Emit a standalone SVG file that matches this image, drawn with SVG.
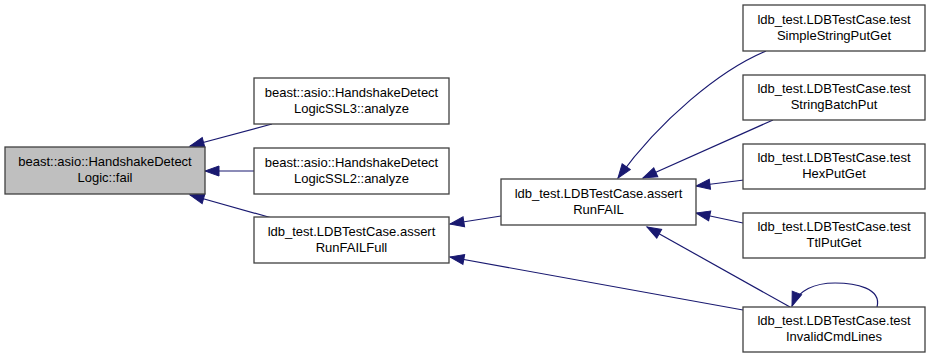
<svg xmlns="http://www.w3.org/2000/svg" width="931" height="357" viewBox="0 0 931 357">
  <style>
    .node rect { fill: #ffffff; stroke: #404040; stroke-width: 1.3; }
    .node.current rect { fill: #bfbfbf; }
    .node text { font-family: "Liberation Sans", Arial, sans-serif; font-size: 13px; fill: #000000; text-anchor: middle; }
    .edges path { fill: none; stroke: #191970; stroke-width: 1.2; marker-end: url(#arrow); }
  </style>
  <defs>
    <marker id="arrow" markerUnits="userSpaceOnUse" markerWidth="14" markerHeight="10" refX="14" refY="5" orient="auto" overflow="visible">
      <path d="M0,0 L14,5 L0,10 Z" fill="#191970" stroke="#191970" stroke-width="1"/>
    </marker>
  </defs>
  <rect width="931" height="357" fill="#ffffff"/>

  <!-- call edges: each path runs from the caller to the called function -->
  <g id="edges" class="edges">
    <path d="M272,124 L190,146"/>
    <path d="M254,171 L205,171"/>
    <path d="M272,218 L190,195"/>
    <path d="M501,216 L450,224"/>
    <path d="M743,310 L450,257"/>
    <path d="M766,51 C720,70 660,120 618,178"/>
    <path d="M773,120 L643,178"/>
    <path d="M744,180 L696,186"/>
    <path d="M743,223 L696,213"/>
    <path d="M790,307 L647,227"/>
    <path d="M877,307 C882,288 855,283 835,283 C815,283 798,290 792,306"/>
  </g>

  <g id="node-fail" class="node current">
    <rect x="5" y="147" width="200" height="47"/>
    <text x="105" y="166">beast::asio::HandshakeDetect</text>
    <text x="105" y="182">Logic::fail</text>
  </g>

  <g id="node-ssl3-analyze" class="node">
    <rect x="254" y="78" width="195" height="46"/>
    <text x="351.5" y="96.5">beast::asio::HandshakeDetect</text>
    <text x="351.5" y="112.5">LogicSSL3::analyze</text>
  </g>

  <g id="node-ssl2-analyze" class="node">
    <rect x="254" y="148" width="195" height="46"/>
    <text x="351.5" y="166.5">beast::asio::HandshakeDetect</text>
    <text x="351.5" y="182.5">LogicSSL2::analyze</text>
  </g>

  <g id="node-assert-run-fail-full" class="node">
    <rect x="254" y="217" width="195" height="46"/>
    <text x="351.5" y="235.5">ldb_test.LDBTestCase.assert</text>
    <text x="351.5" y="251.5">RunFAILFull</text>
  </g>

  <g id="node-assert-run-fail" class="node">
    <rect x="501" y="179" width="195" height="46"/>
    <text x="598.5" y="197.5">ldb_test.LDBTestCase.assert</text>
    <text x="598.5" y="213.5">RunFAIL</text>
  </g>

  <g id="node-simple-string-put-get" class="node">
    <rect x="743" y="5" width="182" height="46"/>
    <text x="834" y="23.5">ldb_test.LDBTestCase.test</text>
    <text x="834" y="39.5">SimpleStringPutGet</text>
  </g>

  <g id="node-string-batch-put" class="node">
    <rect x="743" y="75" width="182" height="45"/>
    <text x="834" y="93">ldb_test.LDBTestCase.test</text>
    <text x="834" y="109">StringBatchPut</text>
  </g>

  <g id="node-hex-put-get" class="node">
    <rect x="743" y="144" width="182" height="45"/>
    <text x="834" y="162">ldb_test.LDBTestCase.test</text>
    <text x="834" y="178">HexPutGet</text>
  </g>

  <g id="node-ttl-put-get" class="node">
    <rect x="743" y="213" width="182" height="45"/>
    <text x="834" y="231">ldb_test.LDBTestCase.test</text>
    <text x="834" y="247">TtlPutGet</text>
  </g>

  <g id="node-invalid-cmd-lines" class="node">
    <rect x="743" y="307" width="182" height="45"/>
    <text x="834" y="325">ldb_test.LDBTestCase.test</text>
    <text x="834" y="341">InvalidCmdLines</text>
  </g>
</svg>
